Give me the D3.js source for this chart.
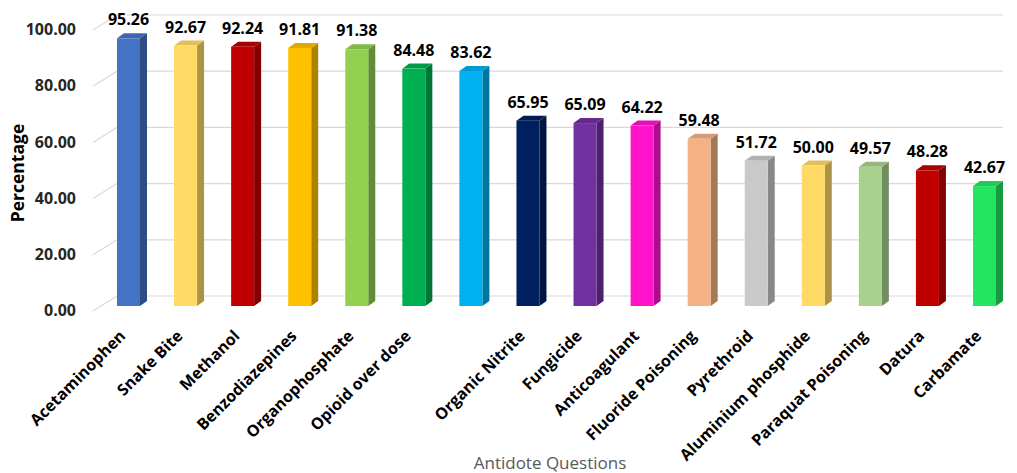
<!DOCTYPE html>
<html>
<head>
<meta charset="utf-8">
<script src="https://cdn.jsdelivr.net/npm/d3@7"></script>
<style>
  body { margin: 0; background: #fff; }
  text { font-family: "Open Sans", Lato, sans-serif; }
</style>
</head>
<body>
<script>
//chart data
var categories = ["Acetaminophen", "Snake Bite", "Methanol", "Benzodiazepines", "Organophosphate",
    "Opioid over dose", "", "Organic Nitrite", "Fungicide", "Anticoagulant", "Fluoride Poisoning",
    "Pyrethroid", "Aluminium phosphide", "Paraquat Poisoning", "Datura", "Carbamate"];
var values = [95.26, 92.67, 92.24, 91.81, 91.38, 84.48, 83.62, 65.95, 65.09, 64.22, 59.48,
    51.72, 50.00, 49.57, 48.28, 42.67];
var colors = ["#4472C4", "#FFD966", "#C00000", "#FFC000", "#92D050", "#00B050", "#00B0F0",
    "#002060", "#7030A0", "#FF14CC", "#F4B183", "#C9C9C9", "#FFD966", "#A9D18E", "#C00000", "#22E660"];
var yTicks = [0, 20, 40, 60, 80, 100];

var width = 1017,
    height = 473;

var svg = d3.select("body")
    .append("svg")
    .attr("width", width)
    .attr("height", height);

//scales
var x = d3.scalePoint()
    .domain(d3.range(categories.length))
    .range([128.5, 984.5]);

var y = d3.scaleLinear()
    .domain([0, 100])
    .range([306, 25]);

var barW = 23, dx = 7, dy = 5;

//gridlines: diagonal from front edge to back wall, then across
var grid = svg.append("g");
yTicks.forEach(function(t){
    var yb = y(t) - 10;
    grid.append("path")
        .attr("d", "M93," + (y(t) + 5) + "L117," + yb + "L1003," + yb)
        .attr("fill", "none")
        .attr("stroke", "#d9d9d9")
        .attr("stroke-width", 1.2);
});

//y tick labels
svg.append("g").selectAll("text")
    .data(yTicks)
    .enter()
    .append("text")
    .attr("x", 76)
    .attr("y", function(d){ return y(d) + 6; })
    .attr("text-anchor", "end")
    .attr("dominant-baseline", "middle")
    .attr("font-size", 16)
    .attr("font-weight", "bold")
    .attr("fill", "#262626")
    .text(function(d){ return d3.format(".2f")(d); });

//y axis title
svg.append("text")
    .attr("transform", "translate(24,173) rotate(-90)")
    .attr("text-anchor", "middle")
    .attr("font-size", 17.5)
    .attr("font-weight", "bold")
    .attr("fill", "#000")
    .text("Percentage");

//3d bars
var bars = svg.append("g").selectAll("g")
    .data(values)
    .enter()
    .append("g");

bars.append("path") //side face
    .attr("d", function(d, i){
        var x1 = x(i) + barW / 2, y0 = y(0), y1 = y(d);
        return "M" + x1 + "," + y1 + "L" + (x1 + dx) + "," + (y1 - dy) +
            "L" + (x1 + dx) + "," + (y0 - dy) + "L" + x1 + "," + y0 + "Z";
    })
    .attr("fill", function(d, i){ return d3.color(colors[i]).darker(1.1); });

bars.append("path") //top face
    .attr("d", function(d, i){
        var x0 = x(i) - barW / 2, y1 = y(d);
        return "M" + x0 + "," + y1 + "L" + (x0 + dx) + "," + (y1 - dy) +
            "L" + (x0 + barW + dx) + "," + (y1 - dy) + "L" + (x0 + barW) + "," + y1 + "Z";
    })
    .attr("fill", function(d, i){ return d3.color(colors[i]).darker(0.35); });

bars.append("rect") //front face
    .attr("x", function(d, i){ return x(i) - barW / 2; })
    .attr("y", function(d){ return y(d); })
    .attr("width", barW)
    .attr("height", function(d){ return y(0) - y(d); })
    .attr("fill", function(d, i){ return colors[i]; });

//value labels
bars.append("text")
    .attr("x", function(d, i){ return x(i); })
    .attr("y", function(d){ return Math.max(y(d) - 13, 23); })
    .attr("text-anchor", "middle")
    .attr("font-size", 16)
    .attr("font-weight", "bold")
    .attr("fill", "#000")
    .text(function(d){ return d3.format(".2f")(d); });

//category labels
svg.append("g").selectAll("text")
    .data(categories)
    .enter()
    .append("text")
    .attr("transform", function(d, i){ return "translate(" + (x(i) - 2) + ",337) rotate(-45)"; })
    .attr("text-anchor", "end")
    .attr("font-size", 16)
    .attr("font-weight", "bold")
    .attr("fill", "#000")
    .text(function(d){ return d; });

//x axis title
svg.append("text")
    .attr("x", 550)
    .attr("y", 469)
    .attr("text-anchor", "middle")
    .attr("font-size", 17)
    .attr("fill", "#595959")
    .text("Antidote Questions");
</script>
</body>
</html>
